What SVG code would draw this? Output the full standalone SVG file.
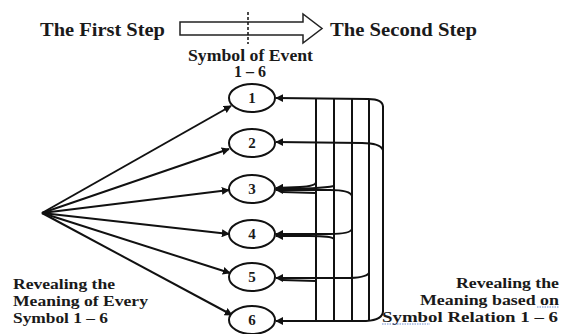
<svg xmlns="http://www.w3.org/2000/svg" width="561" height="334" viewBox="0 0 561 334">
  <style>
    text { font-family: "Liberation Serif", "Times New Roman", serif; font-weight: bold; fill: #1a1a1a; }
    .title { font-size: 18px; }
    .sub { font-size: 16px; }
    .cap { font-size: 14px; }
    .num { font-size: 15px; text-anchor: middle; }
    .node ellipse { fill: #ffffff; stroke: #111111; stroke-width: 2; }
    .edge { fill: none; stroke: #111111; stroke-width: 2; }
    .bar { fill: none; stroke: #111111; stroke-width: 2; }
    .squiggle { stroke: #6f8fd0; stroke-width: 1; stroke-dasharray: 1.5 1; }
  </style>
  <defs>
    <marker id="head" viewBox="0 0 10 10" refX="9" refY="5" markerWidth="4" markerHeight="4" orient="auto" markerUnits="strokeWidth">
      <path d="M0,0 L10,5 L0,10 Z" fill="#111111"/>
    </marker>
  </defs>

  <!-- Step banner -->
  <g id="step-banner">
    <text class="title" x="40" y="36" textLength="125" lengthAdjust="spacingAndGlyphs">The First Step</text>
    <path d="M180,22 L303,22 L303,14 L322,28.5 L303,43 L303,35 L180,35 Z" fill="#ffffff" stroke="#222222" stroke-width="1.5"/>
    <line x1="248" y1="12" x2="248" y2="44" stroke="#111111" stroke-width="1.5" stroke-dasharray="3 2"/>
    <text class="title" x="330" y="36" textLength="147" lengthAdjust="spacingAndGlyphs">The Second Step</text>
  </g>

  <g id="event-label">
    <text class="sub" x="188" y="61" textLength="125" lengthAdjust="spacingAndGlyphs">Symbol of Event</text>
    <text class="sub" x="250" y="77" text-anchor="middle">1 – 6</text>
  </g>

  <!-- Connectors -->
  <g id="connectors">
    <!-- fan from the left point -->
    <path class="edge" marker-end="url(#head)" d="M42,213 L231,106"/>
    <path class="edge" marker-end="url(#head)" d="M42,213 L229,149"/>
    <path class="edge" marker-end="url(#head)" d="M42,213 L229,190"/>
    <path class="edge" marker-end="url(#head)" d="M42,213 L229,234"/>
    <path class="edge" marker-end="url(#head)" d="M42,213 L230,273"/>
    <path class="edge" marker-end="url(#head)" d="M42,213 L232,315"/>

    <!-- relation bracket: vertical bars -->
    <line class="bar" x1="316" y1="99" x2="316" y2="321"/>
    <line class="bar" x1="334" y1="99" x2="334" y2="321"/>
    <line class="bar" x1="352" y1="99" x2="352" y2="321"/>
    <line class="bar" x1="369" y1="99" x2="369" y2="321"/>
    <path class="bar" d="M383,106 L383,312"/>

    <!-- into node 1 -->
    <path class="edge" marker-end="url(#head)" d="M383,107 Q383,99 368,99 L276,98"/>
    <!-- into node 2 -->
    <path class="edge" marker-end="url(#head)" d="M383,150 Q380,143 362,143 L276,142"/>
    <!-- into node 3 -->
    <path class="edge" marker-end="url(#head)" d="M316,182 Q316,186 300,187 L276,188"/>
    <path class="edge" marker-end="url(#head)" d="M334,186 Q320,189 276,189"/>
    <path class="edge" marker-end="url(#head)" d="M352,196 Q350,190 330,190 L276,190"/>
    <path class="edge" d="M316,193 L282,192"/>
    <!-- into node 4 -->
    <path class="edge" marker-end="url(#head)" d="M352,229 Q350,234 330,234 L276,234"/>
    <path class="edge" marker-end="url(#head)" d="M334,239 Q332,236 310,236 L276,236"/>
    <!-- into node 5 -->
    <path class="edge" marker-end="url(#head)" d="M369,273 Q366,278 345,278 L276,278"/>
    <path class="edge" d="M316,281 L282,280"/>
    <!-- into node 6 -->
    <path class="edge" marker-end="url(#head)" d="M383,311 Q383,320 366,321 L276,321"/>
  </g>

  <!-- Event symbols -->
  <g id="node-1" class="node"><ellipse cx="252" cy="98" rx="23" ry="14"/><text class="num" x="252" y="103">1</text></g>
  <g id="node-2" class="node"><ellipse cx="252" cy="143" rx="23" ry="14"/><text class="num" x="252" y="148">2</text></g>
  <g id="node-3" class="node"><ellipse cx="252" cy="189" rx="23" ry="14"/><text class="num" x="252" y="194">3</text></g>
  <g id="node-4" class="node"><ellipse cx="252" cy="234" rx="23" ry="14"/><text class="num" x="252" y="239">4</text></g>
  <g id="node-5" class="node"><ellipse cx="252" cy="277" rx="23" ry="14"/><text class="num" x="252" y="282">5</text></g>
  <g id="node-6" class="node"><ellipse cx="252" cy="320" rx="23" ry="14"/><text class="num" x="252" y="325">6</text></g>

  <!-- Captions -->
  <g id="caption-left">
    <text class="cap" x="13" y="289" textLength="102" lengthAdjust="spacingAndGlyphs">Revealing the</text>
    <text class="cap" x="13" y="306" textLength="135" lengthAdjust="spacingAndGlyphs">Meaning of Every</text>
    <text class="cap" x="13" y="323" textLength="95" lengthAdjust="spacingAndGlyphs">Symbol 1 – 6</text>
  </g>
  <g id="caption-right">
    <text class="cap" x="456" y="288" textLength="103" lengthAdjust="spacingAndGlyphs">Revealing the</text>
    <text class="cap" x="420" y="305" textLength="139" lengthAdjust="spacingAndGlyphs">Meaning based on</text>
    <text class="cap" x="382" y="322" textLength="176" lengthAdjust="spacingAndGlyphs">Symbol Relation 1 – 6</text>
    <line class="squiggle" x1="537" y1="307" x2="559" y2="307"/>
    <line class="squiggle" x1="382" y1="324" x2="430" y2="324"/>
  </g>
</svg>
